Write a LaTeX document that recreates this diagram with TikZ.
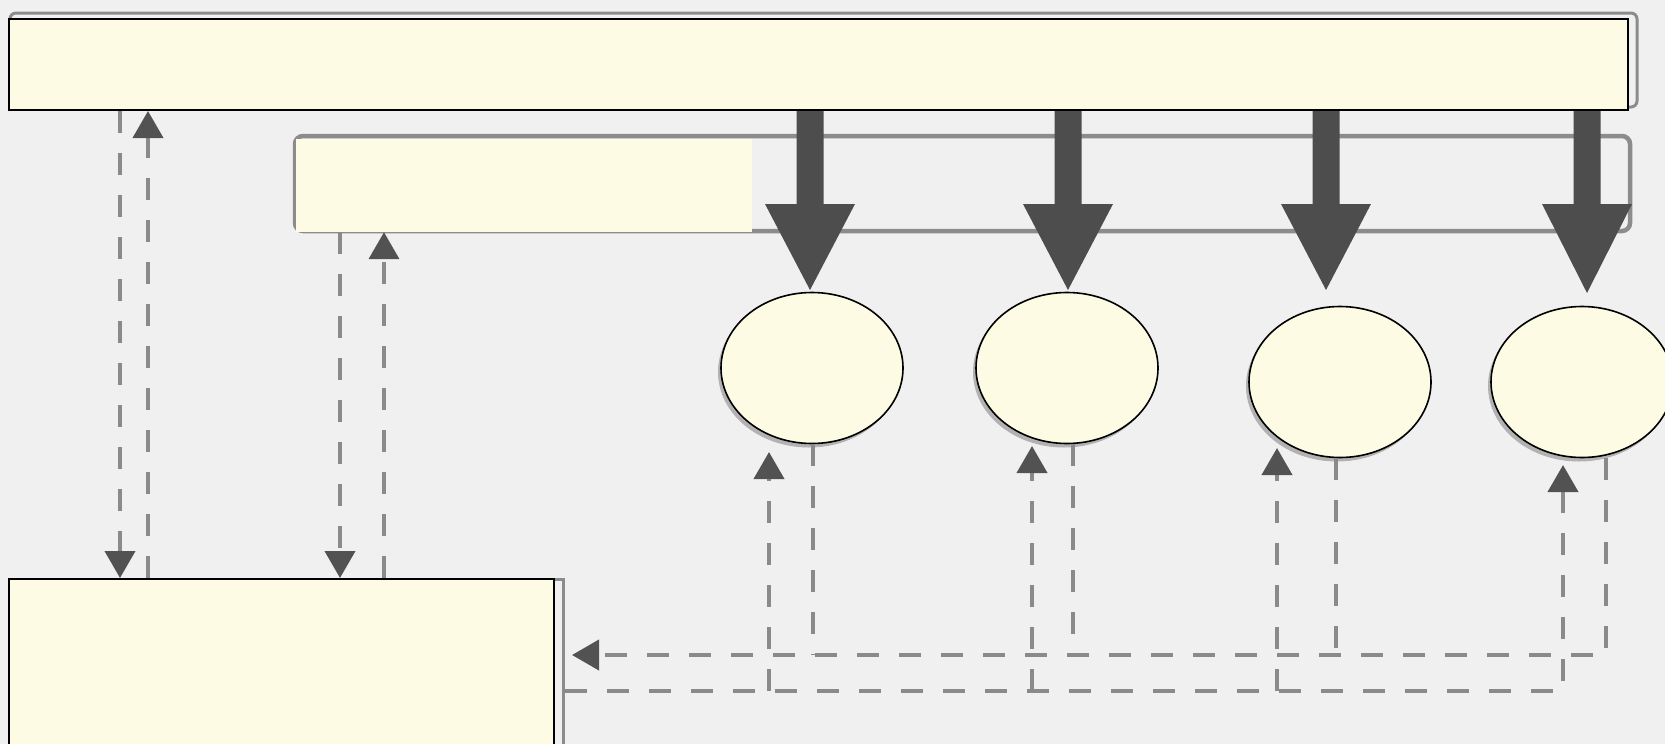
\documentclass[tikz,border=0pt]{standalone}
\usetikzlibrary{arrows.meta,shapes.geometric}
\definecolor{bg}{RGB}{240,240,240}
\definecolor{cream}{RGB}{254,251,228}
\definecolor{dashgray}{RGB}{138,138,138}
\definecolor{headgray}{RGB}{82,82,82}
\definecolor{fatgray}{RGB}{77,77,77}
\definecolor{framegray}{RGB}{140,140,140}
\tikzset{
  box/.style={rectangle, draw=black, line width=2pt, fill=cream, inner sep=0pt},
  plainbox/.style={rectangle, fill=cream, inner sep=0pt},
  oval/.style={ellipse, draw=black, line width=1.6pt, fill=cream, minimum width=182pt, minimum height=151pt, inner sep=0pt},
  ovalshadow/.style={ellipse, fill=gray!60, minimum width=182pt, minimum height=151pt, inner sep=0pt},
  dl/.style={draw=dashgray, line width=4pt, dash pattern=on 22pt off 20pt},
  tipped/.style={-{Triangle[width=30pt,length=27pt,color=headgray]}},
  residue/.style={draw=framegray, line width=4pt},
  fatarrow/.style={fill=fatgray},
}
\begin{document}
\begin{tikzpicture}[x=1pt,y=-1pt]
\useasboundingbox (0,0) rectangle (1665,744);
\fill[bg] (0,0) rectangle (1665,744);
% scan residue frames
\draw[residue, line width=3pt, rounded corners=6pt] (10,13) rectangle (1637,107);
\draw[residue, line width=4.5pt, rounded corners=8pt] (295,136) rectangle (1630,231);
\draw[residue, line width=3pt] (554,579) -- (563,579) -- (563,744);
% boxes
\node[box, minimum width=1619pt, minimum height=91pt] (top) at (818.5,64.5) {};
\node[plainbox, minimum width=456pt, minimum height=93pt] (sub) at (524,185.5) {};
% fat arrows from the top box
\foreach \x/\t in {810/290, 1068/290, 1326/290, 1587/293} {
  \fill[fatarrow] (\x-13.5,111) -- (\x+13.5,111) -- (\x+13.5,204) -- (\x+45,204)
    -- (\x,\t) -- (\x-45,204) -- (\x-13.5,204) -- cycle;
}
% ellipses
\foreach \n/\cx/\cy in {e1/812/368, e2/1067/368, e3/1340/382, e4/1582/382} {
  \node[ovalshadow] at (\cx-3,\cy+4) {};
  \node[oval] (\n) at (\cx,\cy) {};
}
% bottom box
\node[box, minimum width=545pt, minimum height=181pt] (bot) at (281.5,669.5) {};
% coordinates
\coordinate (ta) at (120,0);
\coordinate (tb) at (148,0);
\coordinate (tc) at (340,0);
\coordinate (td) at (384,0);
\coordinate (ret) at (572,655);
\coordinate (br) at (565,691);
\coordinate (r1) at (813,0);
\coordinate (r2) at (1073,0);
\coordinate (r3) at (1336,0);
\coordinate (r4) at (1606,0);
\coordinate (l1) at (769,452);
\coordinate (l2) at (1032,446);
\coordinate (l3) at (1277,448);
\coordinate (l4) at (1563,465);
% left dashed connectors
\draw[dl, tipped] (top.south -| ta) -- (bot.north -| ta);
\draw[dl, tipped] (bot.north -| tb) -- (top.south -| tb);
\draw[dl, tipped] (sub.south -| tc) -- (bot.north -| tc);
\draw[dl, tipped] (bot.north -| td) -- (sub.south -| td);
% return line from the ellipses to the bottom box
\draw[dl, tipped] (e4.south -| r4) |- (ret);
\draw[dl] (e1.south -| r1) -- (r1 |- ret);
\draw[dl] (e2.south -| r2) -- (r2 |- ret);
\draw[dl] (e3.south -| r3) -- (r3 |- ret);
% branch line from the bottom box to the ellipses
\draw[dl, tipped] (br) -| (l4);
\draw[dl, tipped] (l1 |- br) -- (l1);
\draw[dl, tipped] (l2 |- br) -- (l2);
\draw[dl, tipped] (l3 |- br) -- (l3);
\end{tikzpicture}
\end{document}
